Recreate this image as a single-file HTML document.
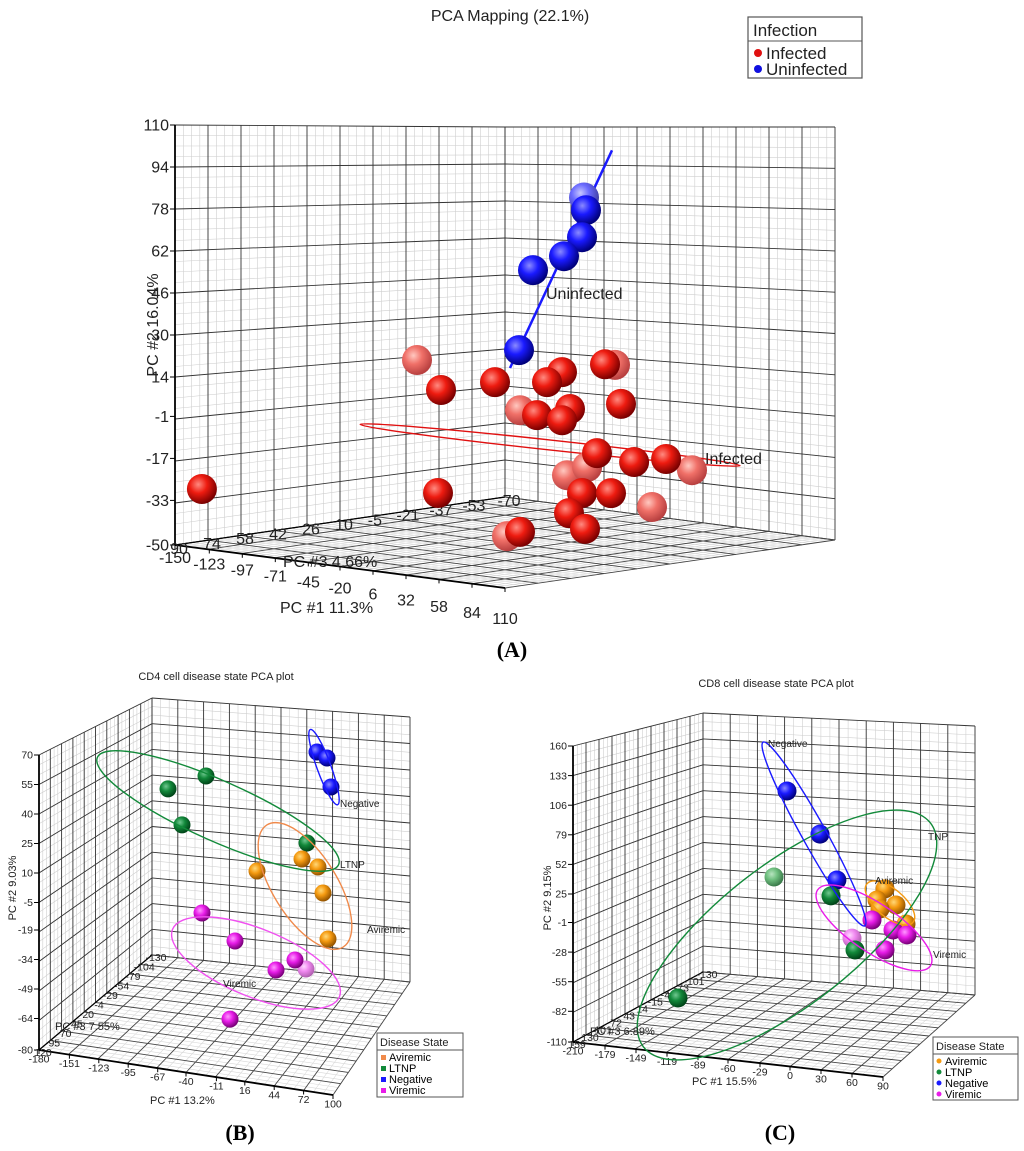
<!DOCTYPE html>
<html><head><meta charset="utf-8"><style>
html,body{margin:0;padding:0;background:#fff;}
svg{display:block;font-family:"Liberation Sans",sans-serif;}
</style></head><body>
<svg id="chart" width="1024" height="1151" viewBox="0 0 1024 1151" xmlns="http://www.w3.org/2000/svg">
<defs>
<radialGradient id="g-red" cx="38%" cy="35%" r="65%"><stop offset="0" stop-color="#ff8a80"/><stop offset="0.45" stop-color="#ee1b10"/><stop offset="1" stop-color="#7a0000"/></radialGradient>
<radialGradient id="g-red-l" cx="38%" cy="35%" r="65%"><stop offset="0" stop-color="#ffc8c0"/><stop offset="0.45" stop-color="#f07068"/><stop offset="1" stop-color="#b84040"/></radialGradient>
<radialGradient id="g-blue" cx="38%" cy="35%" r="65%"><stop offset="0" stop-color="#8a8aff"/><stop offset="0.45" stop-color="#1a1aff"/><stop offset="1" stop-color="#00007a"/></radialGradient>
<radialGradient id="g-blue-l" cx="38%" cy="35%" r="65%"><stop offset="0" stop-color="#c8c8ff"/><stop offset="0.45" stop-color="#6a6aff"/><stop offset="1" stop-color="#4040a0"/></radialGradient>
<radialGradient id="g-green" cx="38%" cy="35%" r="65%"><stop offset="0" stop-color="#70c890"/><stop offset="0.45" stop-color="#12883a"/><stop offset="1" stop-color="#004418"/></radialGradient>
<radialGradient id="g-green-l" cx="38%" cy="35%" r="65%"><stop offset="0" stop-color="#b8e4c0"/><stop offset="0.45" stop-color="#70c080"/><stop offset="1" stop-color="#3a7a4a"/></radialGradient>
<radialGradient id="g-orange" cx="38%" cy="35%" r="65%"><stop offset="0" stop-color="#ffd878"/><stop offset="0.45" stop-color="#f59a10"/><stop offset="1" stop-color="#945400"/></radialGradient>
<radialGradient id="g-orange-l" cx="38%" cy="35%" r="65%"><stop offset="0" stop-color="#ffe8c0"/><stop offset="0.45" stop-color="#f8c070"/><stop offset="1" stop-color="#b88040"/></radialGradient>
<radialGradient id="g-magenta" cx="38%" cy="35%" r="65%"><stop offset="0" stop-color="#ff98ff"/><stop offset="0.45" stop-color="#e81ce8"/><stop offset="1" stop-color="#780078"/></radialGradient>
<radialGradient id="g-magenta-l" cx="38%" cy="35%" r="65%"><stop offset="0" stop-color="#ffd8ff"/><stop offset="0.45" stop-color="#f088f0"/><stop offset="1" stop-color="#b060b0"/></radialGradient>
</defs>
<rect x="0" y="0" width="1024" height="1151" fill="#fff"/>
<g id="panelA"></g>
<g id="panelB"></g>
<g id="panelC"></g>

<text x="510" y="21" font-size="16" text-anchor="middle" fill="#222">PCA Mapping (22.1%)</text>
<g>
<rect x="748" y="17" width="114" height="61" fill="#fff" stroke="#555" stroke-width="1.2"/>
<text x="753" y="36" font-size="17" fill="#222">Infection</text>
<line x1="748" y1="41" x2="862" y2="41" stroke="#555"/>
<circle cx="758" cy="53" r="4" fill="#e01010"/>
<text x="766" y="59" font-size="17" fill="#222">Infected</text>
<circle cx="758" cy="69" r="4" fill="#1010e0"/>
<text x="766" y="75" font-size="17" fill="#222">Uninfected</text>
</g>
<text x="546" y="299" font-size="16" fill="#222">Uninfected</text>
<text x="705" y="464" font-size="16" fill="#222">Infected</text>
<text x="283" y="567" font-size="16" fill="#222">PC #3 4.66%</text>
<text x="280" y="613" font-size="16" fill="#222">PC #1 11.3%</text>
<text x="0" y="0" font-size="16" fill="#222" text-anchor="middle" transform="translate(158,325) rotate(-90)">PC #2 16.04%</text>
<text x="512" y="657" font-size="22" font-weight="bold" font-family="Liberation Serif,serif" text-anchor="middle">(A)</text>

<text x="216" y="680" font-size="11" text-anchor="middle" fill="#222">CD4 cell disease state PCA plot</text>
<text x="150" y="1104" font-size="11" fill="#222">PC #1 13.2%</text>
<text x="55" y="1030" font-size="11" fill="#222">PC #3 7.55%</text>
<text x="0" y="0" font-size="11" fill="#222" text-anchor="middle" transform="translate(16,888) rotate(-90)">PC #2 9.03%</text>
<text x="340" y="807" font-size="10" fill="#222">Negative</text>
<text x="340" y="868" font-size="10" fill="#222">LTNP</text>
<text x="367" y="933" font-size="10" fill="#222">Aviremic</text>
<text x="223" y="987" font-size="10" fill="#222">Viremic</text>
<g>
<rect x="377" y="1033" width="86" height="64" fill="#fff" stroke="#555"/>
<text x="380" y="1046" font-size="11" fill="#222">Disease State</text>
<line x1="377" y1="1050" x2="463" y2="1050" stroke="#555"/>
<rect x="381" y="1055" width="5" height="5" fill="#f08a4b"/><text x="389" y="1061" font-size="11">Aviremic</text>
<rect x="381" y="1066" width="5" height="5" fill="#128a3a"/><text x="389" y="1072" font-size="11">LTNP</text>
<rect x="381" y="1077" width="5" height="5" fill="#1a1aff"/><text x="389" y="1083" font-size="11">Negative</text>
<rect x="381" y="1088" width="5" height="5" fill="#e81ce8"/><text x="389" y="1094" font-size="11">Viremic</text>
</g>
<text x="240" y="1140" font-size="22" font-weight="bold" font-family="Liberation Serif,serif" text-anchor="middle">(B)</text>

<text x="776" y="687" font-size="11" text-anchor="middle" fill="#222">CD8 cell disease state PCA plot</text>
<text x="692" y="1085" font-size="11" fill="#222">PC #1 15.5%</text>
<text x="590" y="1035" font-size="11" fill="#222">PC #3 6.89%</text>
<text x="0" y="0" font-size="11" fill="#222" text-anchor="middle" transform="translate(551,898) rotate(-90)">PC #2 9.15%</text>
<text x="768" y="747" font-size="10" fill="#222">Negative</text>
<text x="928" y="840" font-size="10" fill="#222">TNP</text>
<text x="875" y="884" font-size="10" fill="#222">Aviremic</text>
<text x="933" y="958" font-size="10" fill="#222">Viremic</text>
<g>
<rect x="933" y="1037" width="85" height="63" fill="#fff" stroke="#555"/>
<text x="936" y="1050" font-size="11" fill="#222">Disease State</text>
<line x1="933" y1="1054" x2="1018" y2="1054" stroke="#555"/>
<circle cx="939" cy="1061" r="2.5" fill="#f59a10"/><text x="945" y="1065" font-size="11">Aviremic</text>
<circle cx="939" cy="1072" r="2.5" fill="#128a3a"/><text x="945" y="1076" font-size="11">LTNP</text>
<circle cx="939" cy="1083" r="2.5" fill="#1a1aff"/><text x="945" y="1087" font-size="11">Negative</text>
<circle cx="939" cy="1094" r="2.5" fill="#e81ce8"/><text x="945" y="1098" font-size="11">Viremic</text>
</g>
<text x="780" y="1140" font-size="22" font-weight="bold" font-family="Liberation Serif,serif" text-anchor="middle">(C)</text>
</svg>
<script>
const aUninfPc1 = [-39, 76.3, 73.2, 59, 34.6, 23.5];
const aUninfPc2 = [81.5, 79.2, 69.3, 62.1, 56.5, 26.5];
const aUninfPc3 = [-40, 30, 30, 30, 30, 30];
const aInfPc1 = [91.3, 57.4, 45.6, 4.6, -37.9, 103.9, 63.7, 37.7, 57.4, 85.0, 73.2, 96.0, 62.9, 75.5, 24.3, -40.3, 74.4, 49.2, -128.8, -14.6, -170.6, -89.4, 46.1, -52.4, -36.6, 14.6, -99.7];
const aInfPc2 = [23.5, 19.5, 15.4, 13.9, 9.3, 9.6, 6.2, 2.9, 1.8, -9.0, -24.1, -23.0, -32.0, -37.1, -41.1, -30.1, -15.0, -17.4, -27.5, 15.1, 10.7, -6.5, -23.5, -31.0, -26.8, -39.7, -59.0];
const aInfPc3 = [30, 30, 30, 30, 30, 30, 30, 30, 30, 30, 30, 30, 30, 30, 30, 30, -10, -10, 90, -40, -40, -40, -40, -40, -40, -40, -40];
const aFitLinePc1 = [16.4, 96.8];
const aFitLinePc2 = [19.6, 101.1];
const aFitLinePc3 = [30, 30];
const aInfCenter = [48, -7.7, 30];
const aXTicks = [-150, -123, -97, -71, -45, -20, 6, 32, 58, 84, 110];
const aYTicks = [110, 94, 78, 62, 46, 30, 14, -1, -17, -33, -50];
const aZTicks = [90, 74, 58, 42, 26, 10, -5, -21, -37, -53, -70];

const bNegPc1 = [44.7, 54.9, 58.9];
const bNegPc2 = [69.0, 66.4, 51.2];
const bNegPc3 = [-5, -5, -5];
const bLtnpPc1 = [-67.9, -106.4, -92.2, 34.6];
const bLtnpPc2 = [49.7, 40.5, 21.9, 19.9];
const bLtnpPc3 = [-5, -5, -5, -5];
const bAviPc1 = [29.5, 45.7, -16.2, 50.8, 55.9];
const bAviPc2 = [11.0, 7.75, 1.8, -5.8, -30.0];
const bAviPc3 = [-5, -5, -5, -5, -5];
const bVirPc1 = [-72.0, -38.5, 22.4, 3.1, 15.7, -43.6];
const bVirPc2 = [-24.3, -37.2, -43.4, -50.0, -59.6, -79.5];
const bVirPc3 = [-5, -5, -5, -5, -55, -5];
const bCenterPc1 = [32.5, -55.7, 51.8, -17.2];
const bCenterPc2 = [-3.2, 31.6, 61.4, -47.6];
const bXTicks = [-180, -151, -123, -95, -67, -40, -11, 16, 44, 72, 100];
const bYTicks = [70, 55, 40, 25, 10, -5, -19, -34, -49, -64, -80];
const bZTicks = [120, 95, 70, 45, 20, -4, -29, -54, -79, -104, -130];

const cNegPc1 = [-56.4, -22.4, -4.9];
const cNegPc2 = [111.7, 73.0, 30.4];
const cNegPc3 = [14.5, 14.5, 14.5];
const cLtnpPc1 = [-93.6, -11.0, 13.7, -168.8];
const cLtnpPc2 = [14.8, 14.7, -34.9, -97.4];
const cLtnpPc3 = [-43.3, 14.5, 14.5, 14.5];
const cAviPc1 = [44.6, 36.4, 56.0, 39.5, 66.3];
const cAviPc2 = [25.9, 14.7, 11.5, 6.4, -5.7];
const cAviPc3 = [14.5, 14.5, 14.5, 14.5, 14.5];
const cVirPc1 = [31.2, 52.9, 67.3, -11.0, 44.6];
const cVirPc2 = [-4.8, -12.5, -16.0, -38.9, -32.2];
const cVirPc3 = [14.5, 14.5, 14.5, -43.3, 14.5];
const cCenterPc1 = [49.8, -56.4, -28.6, 33.3];
const cCenterPc2 = [12.9, -26.6, 72.6, -12.2];
const cXTicks = [-210, -179, -149, -119, -89, -60, -29, 0, 30, 60, 90];
const cYTicks = [160, 133, 106, 79, 52, 25, -1, -28, -55, -82, -110];
const cZTicks = [159, 130, 101, 72, 43, 14, -15, -44, -73, -101, -130];

const NS = 'http://www.w3.org/2000/svg';
function el(tag, parent, attrs) {
  const e = document.createElementNS(NS, tag);
  for (const k in attrs) e.setAttribute(k, attrs[k]);
  parent.appendChild(e);
  return e;
}

const cfgA = {B:[505,497], L:[175,545], R:[835,540], F:[505,588], H:[370,420,413,463],
  xr:[-150,110], yr:[-50,110], zr:[-70,90], sub:4, r:15, fs:16, light:0.3, xlabExtra:18,
  xt:aXTicks, yt:aYTicks, zt:aZTicks, floorMajor:'#444'};
const cfgB = {B:[152,955], L:[39,1050], R:[410,982], F:[333,1095], H:[257,295,265,300],
  xr:[-180,100], yr:[-80,70], zr:[-130,120], sub:3, r:8.5, fs:10.5, light:0.4, xlabExtra:0,
  xt:bXTicks, yt:bYTicks, zt:bZTicks, floorMajor:'#444'};
const cfgC = {B:[703,972], L:[573,1042], R:[975,995], F:[883,1077], H:[259,296,269,300],
  xr:[-210,90], yr:[-110,160], zr:[-130,159], sub:3, r:9.5, fs:10.5, light:0.4, xlabExtra:0,
  xt:cXTicks, yt:cYTicks, zt:cZTicks, floorMajor:'#444'};

function Pf(c, t, h, d) {
  const B=c.B, L=c.L, R=c.R, F=c.F, H=c.H;
  const fx = B[0]+t*(R[0]-B[0])+d*(L[0]-B[0])+t*d*(F[0]-L[0]-R[0]+B[0]);
  const fy = B[1]+t*(R[1]-B[1])+d*(L[1]-B[1])+t*d*(F[1]-L[1]-R[1]+B[1]);
  const hh = H[0]+t*(H[2]-H[0])+d*(H[1]-H[0])+t*d*(H[3]-H[1]-H[2]+H[0]);
  return [fx, fy-h*hh];
}
function xs(c,v){return (v-c.xr[0])/(c.xr[1]-c.xr[0]);}
function ys(c,v){return (v-c.yr[0])/(c.yr[1]-c.yr[0]);}
function zs(c,v){return (v-c.zr[0])/(c.zr[1]-c.zr[0]);}
function P(c,x,y,z){return Pf(c, xs(c,x), ys(c,y), zs(c,z));}

function seg(g, a, b, stroke, w) {
  return el('line', g, {x1:a[0].toFixed(1), y1:a[1].toFixed(1), x2:b[0].toFixed(1), y2:b[1].toFixed(1), stroke:stroke, 'stroke-width':w});
}

function drawGrid(c, g, prefix) {
  const gg = el('g', g, {});
  
  
  const N = 10*c.sub;
  for (let pass=0; pass<2; pass++) {
    for (let i=0;i<=N;i++) {
      const f=i/N, major=(i%c.sub===0);
      if ((pass===0)===major) continue;
      const col = major ? '#333' : '#cfcfcf';
      const w = major ? 0.9 : 0.6;
      seg(gg, Pf(c,0,f,1), Pf(c,0,f,0), col, w);
      seg(gg, Pf(c,0,f,0), Pf(c,1,f,0), col, w);
      seg(gg, Pf(c,0,0,f), Pf(c,0,1,f), col, w);
      seg(gg, Pf(c,f,0,0), Pf(c,f,1,0), col, w);
      const fc = major ? c.floorMajor : '#d8d8d8';
      seg(gg, Pf(c,f,0,0), Pf(c,f,0,1), fc, w);
      seg(gg, Pf(c,0,0,f), Pf(c,1,0,f), fc, w);
    }
  }
  seg(gg, Pf(c,0,0,1), Pf(c,0,1,1), '#000', 1.8);
  seg(gg, Pf(c,0,0,1), Pf(c,1,0,1), '#000', 1.8);
  seg(gg, Pf(c,0,0,1), Pf(c,0,0,0), '#000', 1.2);
}

function drawTicks(c, g, prefix) {
  const tg = el('g', g, {'font-size':c.fs, fill:'#222'});
  
  
  c.yt.forEach(v => {
    const p = P(c, c.xr[0], v, c.zr[1]);
    seg(tg, p, [p[0]-5, p[1]], '#000', 1);
    const t = el('text', tg, {x:(p[0]-6).toFixed(1), y:(p[1]+c.fs*0.35).toFixed(1), 'text-anchor':'end'});
    t.textContent = v;
    
    
  });
  c.xt.forEach(v => {
    const p = P(c, v, c.yr[0], c.zr[1]);
    const extra = xs(c, v) * c.xlabExtra;
    seg(tg, p, [p[0], p[1]+4], '#000', 1);
    const t = el('text', tg, {x:p[0].toFixed(1), y:(p[1]+c.fs+2+extra).toFixed(1), 'text-anchor':'middle'});
    t.textContent = v;
    
    
  });
  c.zt.forEach(v => {
    const p = P(c, c.xr[0], c.yr[0], v);
    const t = el('text', tg, {x:(p[0]+4).toFixed(1), y:(p[1]+c.fs*0.55).toFixed(1), 'text-anchor':'middle'});
    t.textContent = v;
    
    
  });
}

function drawPoints(c, g, prefix, groups) {
  const pts = [];
  groups.forEach(gr => {
    for (let i=0;i<gr.x.length;i++) {
      const p = P(c, gr.x[i], gr.y[i], gr.z[i]);
      pts.push({p:p, d:zs(c, gr.z[i]), color:gr.color, name:gr.name});
    }
  });
  pts.sort((a,b)=>a.d-b.d);
  const pg = el('g', g, {});
  
  
  pts.forEach(o => {
    const light = o.d < c.light;
    const ci = el('circle', pg, {cx:o.p[0].toFixed(1), cy:o.p[1].toFixed(1), r:c.r, fill:'url(#g-'+o.color+(light?'-l':'')+')'});
    
    
  });
}

function ellipse(c, g, name, x, y, z, rx, ry, ang, color) {
  const p = P(c, x, y, z);
  const e = el('ellipse', g, {cx:p[0].toFixed(1), cy:p[1].toFixed(1), rx:rx, ry:ry, fill:'none', stroke:color, 'stroke-width':1.4, transform:'rotate('+ang+' '+p[0].toFixed(1)+' '+p[1].toFixed(1)+')'});
  
  
}

const gA = document.getElementById('panelA');
drawGrid(cfgA, gA, 'a');
drawTicks(cfgA, gA, 'a');
ellipse(cfgA, gA, 'a-ellipse-infected', aInfCenter[0], aInfCenter[1], aInfCenter[2], 191, 5, 6.2, '#e01010');
const lp0 = P(cfgA, aFitLinePc1[0], aFitLinePc2[0], aFitLinePc3[0]);
const lp1 = P(cfgA, aFitLinePc1[1], aFitLinePc2[1], aFitLinePc3[1]);
const fitLine = seg(gA, lp0, lp1, '#1a1aff', 2.5);


drawPoints(cfgA, gA, 'a', [
  {x:aInfPc1, y:aInfPc2, z:aInfPc3, color:'red', name:'infected'},
  {x:aUninfPc1, y:aUninfPc2, z:aUninfPc3, color:'blue', name:'uninfected'}
]);

const gB = document.getElementById('panelB');
drawGrid(cfgB, gB, 'b');
drawTicks(cfgB, gB, 'b');
drawPoints(cfgB, gB, 'b', [
  {x:bNegPc1, y:bNegPc2, z:bNegPc3, color:'blue', name:'negative'},
  {x:bLtnpPc1, y:bLtnpPc2, z:bLtnpPc3, color:'green', name:'ltnp'},
  {x:bAviPc1, y:bAviPc2, z:bAviPc3, color:'orange', name:'aviremic'},
  {x:bVirPc1, y:bVirPc2, z:bVirPc3, color:'magenta', name:'viremic'}
]);
ellipse(cfgB, gB, 'b-ellipse-aviremic', bCenterPc1[0], bCenterPc2[0], -5, 72, 32, 58, '#f08a4b');
ellipse(cfgB, gB, 'b-ellipse-ltnp', bCenterPc1[1], bCenterPc2[1], -5, 132, 30, 24, '#128a3a');
ellipse(cfgB, gB, 'b-ellipse-negative', bCenterPc1[2], bCenterPc2[2], -5, 40, 7, 70, '#1a1aff');
ellipse(cfgB, gB, 'b-ellipse-viremic', bCenterPc1[3], bCenterPc2[3], -5, 90, 34, 22, '#f050f0');

const gC = document.getElementById('panelC');
drawGrid(cfgC, gC, 'c');
drawTicks(cfgC, gC, 'c');
drawPoints(cfgC, gC, 'c', [
  {x:cNegPc1, y:cNegPc2, z:cNegPc3, color:'blue', name:'negative'},
  {x:cLtnpPc1, y:cLtnpPc2, z:cLtnpPc3, color:'green', name:'ltnp'},
  {x:cAviPc1, y:cAviPc2, z:cAviPc3, color:'orange', name:'aviremic'},
  {x:cVirPc1, y:cVirPc2, z:cVirPc3, color:'magenta', name:'viremic'}
]);
ellipse(cfgC, gC, 'c-ellipse-aviremic', cCenterPc1[0], cCenterPc2[0], 14.5, 30, 14, 40, '#f59a10');
ellipse(cfgC, gC, 'c-ellipse-ltnp', cCenterPc1[1], cCenterPc2[1], 14.5, 182, 70, -38, '#128a3a');
ellipse(cfgC, gC, 'c-ellipse-negative', cCenterPc1[2], cCenterPc2[2], 14.5, 105, 12, 61, '#1a1aff');
ellipse(cfgC, gC, 'c-ellipse-viremic', cCenterPc1[3], cCenterPc2[3], 14.5, 68, 24, 34, '#e81ce8');
</script>
</body></html>
